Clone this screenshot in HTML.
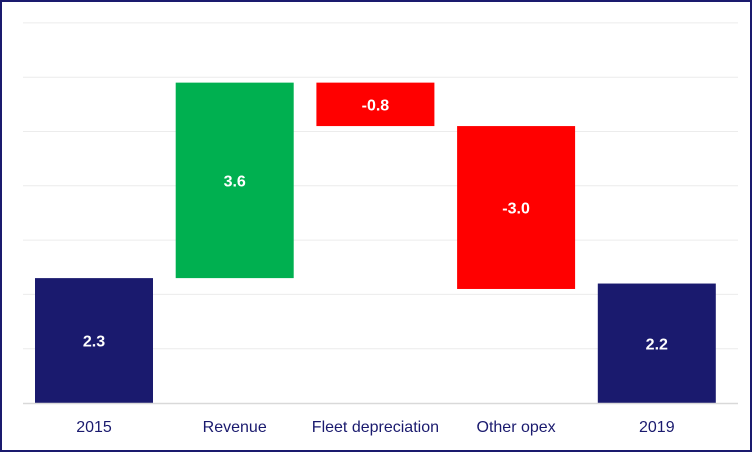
<!DOCTYPE html>
<html><head><meta charset="utf-8"><style>
body{margin:0;background:#fff}
#wrap{position:relative;width:752px;height:452px;box-sizing:border-box;border:2px solid #1a1a6e;background:#fff}
text{font-family:"Liberation Sans",sans-serif}
</style></head><body>
<div id="wrap">
<svg id="chart" width="748" height="448" style="position:absolute;left:0;top:0"></svg>
</div>
<script>
const categories=["2015","Revenue","Fleet depreciation","Other opex","2019"];
const values=[2.3,3.6,-0.8,-3.0,2.2];
const kinds=["total","delta","delta","delta","total"];
const labels=["2.3","3.6","-0.8","-3.0","2.2"];
const gridTicks=[0,1,2,3,4,5,6,7];
const NS="http://www.w3.org/2000/svg";
const svg=document.getElementById('chart');
const ox=-2,oy=-2;
const y0=403,unit=54.3,x0=23,x1=738;
function y(v){return y0-v*unit+oy;}
function xc(i){return 94+i*140.7+ox;}
const bw=118;
function mk(t,a){const e=document.createElementNS(NS,t);for(const k in a)e.setAttribute(k,a[k]);svg.appendChild(e);return e;}
gridTicks.forEach(t=>{if(t===0)return;const l=mk('line',{x1:x0+ox,x2:x1+ox,y1:y(t),y2:y(t),stroke:'#ececec','stroke-width':1});

});
let run=0;
categories.forEach((c,i)=>{
  let a,b,col;
  if(kinds[i]==="total"){a=0;b=values[i];run=values[i];col='#1a1a6e';}
  else{a=run;b=run+values[i];run=b;col=values[i]>=0?'#00b050':'#ff0000';}
  const top=y(Math.max(a,b)),h=Math.abs(y(a)-y(b));
  const r=mk('rect',{x:xc(i)-bw/2,y:top,width:bw,height:h,fill:col});
  
  
  const t=mk('text',{x:xc(i),y:top+h/2+6,'text-anchor':'middle',fill:'#fff','font-size':16,'font-weight':'bold'});
  t.textContent=labels[i];
  
  
  const cl=mk('text',{x:xc(i),y:432+oy,'text-anchor':'middle',fill:'#1a1a6e','font-size':16});
  cl.textContent=c;
  
  
});
const base=mk('line',{x1:x0+ox,x2:x1+ox,y1:y(0)+0.5,y2:y(0)+0.5,stroke:'#d9d9d9','stroke-width':1.5});


</script>
</body></html>
